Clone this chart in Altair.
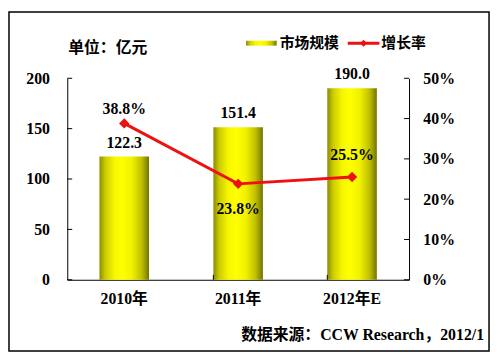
import altair as alt
import pandas as pd

years = ["2010年", "2011年", "2012年E"]
market = [122.3, 151.4, 190.0]
growth = [0.388, 0.238, 0.255]
left_ticks = [0, 50, 100, 150, 200]
right_ticks = [0, 0.1, 0.2, 0.3, 0.4, 0.5]

FONT = "'Liberation Serif', 'Noto Sans CJK SC'"
CJK = "'Noto Sans CJK SC'"
RED = "#ee1111"

df = pd.DataFrame({"year": years, "market": market, "growth": growth})
one = alt.Data(values=[{"a": 1}])

W, H = 346, 204
xenc = alt.X("year:N", sort=years,
             scale=alt.Scale(domain=years, paddingInner=0.565, paddingOuter=0.2825),
             axis=alt.Axis(title=None, labelAngle=0, labelFont=FONT, labelFontSize=16,
                           labelFontWeight="bold", labelColor="black", tickSize=0,
                           labelPadding=11, domainColor="black", domainWidth=1))

grad = {"gradient": "linear", "x1": 0, "x2": 1, "y1": 0, "y2": 0,
        "stops": [{"offset": 0, "color": "#8c8c00"},
                  {"offset": 0.12, "color": "#cccc00"},
                  {"offset": 0.3, "color": "#f6f600"},
                  {"offset": 0.45, "color": "#ffff00"},
                  {"offset": 0.65, "color": "#f2f200"},
                  {"offset": 0.85, "color": "#c0c000"},
                  {"offset": 1, "color": "#747400"}]}

yleft = alt.Y("market:Q", scale=alt.Scale(domain=[0, 200], nice=False),
              axis=alt.Axis(title=None, values=left_ticks, grid=False, tickSize=0,
                            labelFont=FONT, labelFontSize=16, labelFontWeight="bold",
                            labelColor="black", labelPadding=18, domainColor="black"))

bars = alt.Chart(df).mark_bar(color=grad).encode(x=xenc, y=yleft)
bar_text = alt.Chart(df).mark_text(font=FONT, fontSize=16, fontWeight="bold",
                                   baseline="alphabetic", dy=-9, color="black").encode(
    x=alt.X("year:N", sort=years), y="market:Q", text=alt.Text("market:Q", format=".1f"))
lt_df = pd.DataFrame({"market": left_ticks})
lticks = alt.Chart(lt_df).mark_rule(color="black", strokeWidth=1).encode(
    y="market:Q", x=alt.value(0), x2=alt.value(5))

xt_df = pd.DataFrame({"year": years[1:]})
xticks = alt.Chart(xt_df).mark_rule(color="black", strokeWidth=1).encode(
    x=alt.X("year:N", sort=years, bandPosition=0), y=alt.value(H), y2=alt.value(H - 5))

left_layer = alt.layer(bars, bar_text, lticks, xticks)

yright = alt.Y("growth:Q", scale=alt.Scale(domain=[0, 0.5], nice=False),
               axis=alt.Axis(title=None, orient="right", values=right_ticks, format=".0%",
                             grid=False, tickSize=0, labelFont=FONT, labelFontSize=16,
                             labelFontWeight="bold", labelColor="black", labelPadding=14,
                             domainColor="black"))
line = alt.Chart(df).mark_line(color=RED, strokeWidth=3).encode(
    x=alt.X("year:N", sort=years), y=yright)
pts = alt.Chart(df).mark_point(shape="diamond", filled=True, size=110, color=RED,
                               opacity=1).encode(x=alt.X("year:N", sort=years), y="growth:Q")

def gtext(year, dy):
    return alt.Chart(df).transform_filter(alt.datum.year == year).mark_text(
        font=FONT, fontSize=16, fontWeight="bold", baseline="alphabetic", dy=dy,
        color="black").encode(x=alt.X("year:N", sort=years), y="growth:Q",
                              text=alt.Text("growth:Q", format=".1%"))

rt_df = pd.DataFrame({"growth": right_ticks})
rticks = alt.Chart(rt_df).mark_rule(color="black", strokeWidth=1).encode(
    y="growth:Q", x=alt.value(W), x2=alt.value(W - 5))

right_layer = alt.layer(line, pts, gtext(years[0], -10), gtext(years[1], 31),
                        gtext(years[2], -17), rticks)

# decorations: border, unit title, legend, source
border = alt.Chart(one).mark_rect(fill="transparent", stroke="black", strokeWidth=1.5).encode(
    x=alt.value(-59), x2=alt.value(427), y=alt.value(-67), y2=alt.value(276))
unit = alt.Chart(one).mark_text(text="单位：亿元", font=CJK, fontSize=16, fontWeight="bold",
                                align="left", baseline="middle", color="black").encode(
    x=alt.value(1), y=alt.value(-31))
leg_bar = alt.Chart(one).mark_rect(color=grad).encode(
    x=alt.value(181), x2=alt.value(212), y=alt.value(-38), y2=alt.value(-33))
leg_t1 = alt.Chart(one).mark_text(text="市场规模", font=CJK, fontSize=15, fontWeight="bold",
                                  align="left", baseline="middle", color="black").encode(
    x=alt.value(215), y=alt.value(-36))
leg_line = alt.Chart(one).mark_rule(color=RED, strokeWidth=3).encode(
    x=alt.value(284), x2=alt.value(316), y=alt.value(-35.5))
leg_pt = alt.Chart(one).mark_point(shape="diamond", filled=True, size=50, color=RED,
                                   opacity=1).encode(x=alt.value(300), y=alt.value(-35.5))
leg_t2 = alt.Chart(one).mark_text(text="增长率", font=CJK, fontSize=15, fontWeight="bold",
                                  align="left", baseline="middle", color="black").encode(
    x=alt.value(318), y=alt.value(-36))
source = alt.Chart(one).mark_text(text="数据来源：CCW Research，2012/1", font=FONT,
                                  fontSize=16, fontWeight="bold", align="right",
                                  baseline="middle", color="black").encode(
    x=alt.value(422), y=alt.value(260))

deco = alt.layer(border, unit, leg_bar, leg_t1, leg_line, leg_pt, leg_t2, source)

chart = alt.layer(left_layer, right_layer, deco).resolve_scale(y="independent").properties(
    width=W, height=H,
    autosize=alt.AutoSizeParams(type="none"),
    padding={"left": 60, "top": 69, "right": 84, "bottom": 72},
    background="white",
).configure_view(strokeWidth=0)

chart.save("out.html", embed_options={"renderer": "svg", "actions": False})
